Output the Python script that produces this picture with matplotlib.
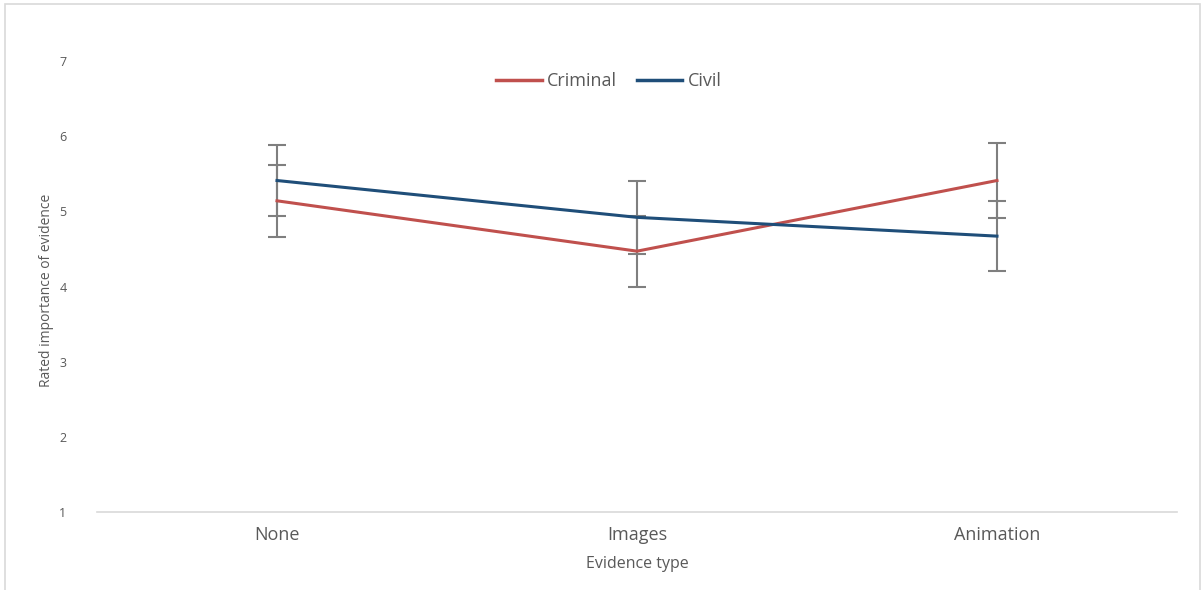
import matplotlib
matplotlib.use("Agg")
import matplotlib.pyplot as plt
from matplotlib.patches import Rectangle
from matplotlib.lines import Line2D

# data
categories = ["None", "Images", "Animation"]
criminal = [5.14, 4.47, 5.41]
criminal_err = [0.48, 0.47, 0.50]
civil = [5.41, 4.92, 4.67]
civil_err = [0.47, 0.49, 0.47]
y_ticks = [1, 2, 3, 4, 5, 6, 7]

TEXT = "#595959"
RED = "#C0504D"
BLUE = "#1F4E79"
ERR = "#7F7F7F"

plt.rcParams["font.family"] = ["Open Sans", "DejaVu Sans"]

fig = plt.figure(figsize=(12.04, 5.9), dpi=100)
ax = fig.add_axes([97 / 1204, (590 - 512) / 590, (1177 - 97) / 1204, (512 - 61) / 590])

# light frame around the chart area
fig.patches.append(Rectangle((5 / 1204, -0.05), 1195 / 1204, 1.05 - 4 / 590,
                             transform=fig.transFigure, fill=False,
                             edgecolor="#D9D9D9", linewidth=1.2))

x = range(len(categories))
ax.errorbar(x, criminal, yerr=criminal_err, color=RED, linewidth=2.2,
            ecolor=ERR, elinewidth=1.5, capsize=6.5, capthick=1.5, zorder=3)
ax.errorbar(x, civil, yerr=civil_err, color=BLUE, linewidth=2.2,
            ecolor=ERR, elinewidth=1.5, capsize=6.5, capthick=1.5, zorder=3)

ax.set_xlim(-0.5, len(categories) - 0.5)
ax.set_ylim(1, 7)
ax.set_yticks(y_ticks)
ax.set_xticks(list(x))
ax.set_xticklabels(categories, fontsize=13, color=TEXT)
ax.tick_params(axis="y", length=0, labelsize=9, labelcolor=TEXT, pad=22)
ax.tick_params(axis="x", length=0, pad=10)

for s in ["top", "right", "left"]:
    ax.spines[s].set_visible(False)
ax.spines["bottom"].set_color("#D9D9D9")
ax.spines["bottom"].set_linewidth(1.2)

ax.set_xlabel("Evidence type", fontsize=11.5, color=TEXT, labelpad=9)
ax.set_ylabel("Rated importance of evidence", fontsize=10, color=TEXT)
ax.yaxis.set_label_coords((54 - 97) / 1080, (512 - 290) / 451)

handles = [Line2D([], [], color=RED, linewidth=2.5),
           Line2D([], [], color=BLUE, linewidth=2.5)]
leg = ax.legend(handles, ["Criminal", "Civil"], loc="center",
                bbox_to_anchor=(0.474, 0.955), ncol=2, frameon=False,
                fontsize=13, handlelength=2.5, handletextpad=0.3,
                columnspacing=1.1)
for t in leg.get_texts():
    t.set_color(TEXT)

fig.savefig("out.png", dpi=100)
